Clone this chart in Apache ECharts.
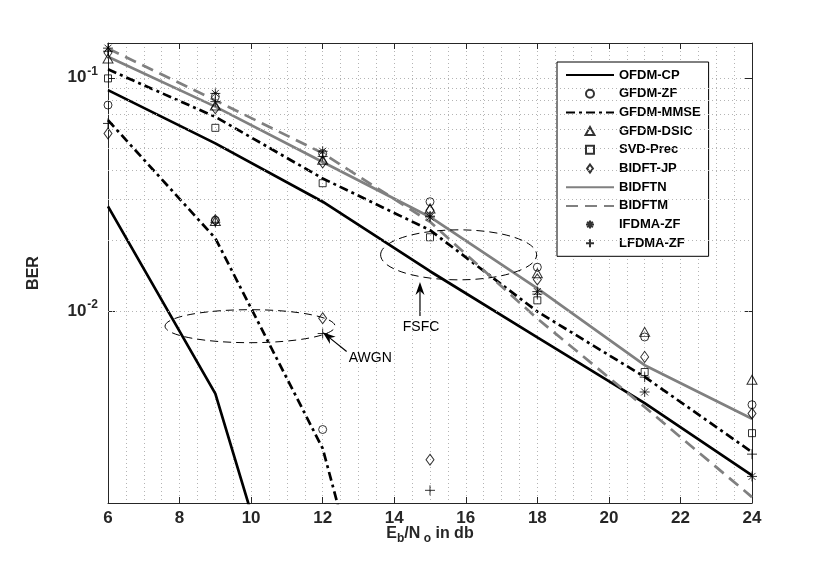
<!DOCTYPE html>
<html>
<head>
<meta charset="utf-8">
<script src="https://cdn.jsdelivr.net/npm/echarts@6/dist/echarts.min.js"></script>
<style>
  html, body { margin: 0; padding: 0; background: #fff; }
  #main { width: 830px; height: 565px; }
</style>
</head>
<body>
<div id="main"></div>
<script>
'use strict'
// Eb/No points (dB)
var xVals = [6, 9, 12, 15, 18, 21, 24];

// curves, frequency selective channel (FSFC)
var ofdmFsfc = [0.0885, 0.0523, 0.0294, 0.0148, 0.0077, 0.00402, 0.00197];
var mmseFsfc = [0.1087, 0.068, 0.037, 0.0222, 0.00994, 0.00521, 0.00248];
var bidftnVals = [0.123, 0.0752, 0.0435, 0.0253, 0.0125, 0.00585, 0.00345];
var bidftmVals = [0.1336, 0.080, 0.0475, 0.0241, 0.00927, 0.00387, 0.00159];

// curves, AWGN channel
var ofdmAwgnX = [6, 9, 12];
var ofdmAwgn = [0.0281, 0.00442, 0.00013];
var mmseAwgnX = [6, 9, 12, 15];
var mmseAwgn = [0.0658, 0.0205, 0.00257, 0.00005];

// markers [Eb/No, BER]
var zfPts = [[6, 0.0764], [9, 0.083], [12, 0.0473], [15, 0.0294], [18, 0.0154], [21, 0.00773], [24, 0.00396],
             [9, 0.0245], [12, 0.0031]];
var dsicPts = [[6, 0.121], [9, 0.076], [12, 0.0445], [15, 0.0275], [18, 0.0145], [21, 0.00813], [24, 0.00507],
               [9, 0.0243]];
var svdPts = [[6, 0.0994], [9, 0.061], [12, 0.0353], [15, 0.0207], [18, 0.0111], [21, 0.00547], [24, 0.00299]];
var jpPts = [[6, 0.128], [9, 0.074], [12, 0.0433], [15, 0.027], [18, 0.01365], [21, 0.00635], [24, 0.00363],
             [6, 0.0577], [9, 0.0245], [12, 0.0093], [15, 0.0023]];
var ifdmaPts = [[6, 0.134], [9, 0.0857], [12, 0.0484], [15, 0.0253], [18, 0.0121], [21, 0.00449], [24, 0.00195]];
var lfdmaPts = [[6, 0.13], [9, 0.079], [12, 0.046], [15, 0.0255], [18, 0.0118], [21, 0.0052], [24, 0.00243],
                [6, 0.0637], [9, 0.0240], [12, 0.0080], [15, 0.0017]];

var legendNames = ['OFDM-CP', 'GFDM-ZF', 'GFDM-MMSE', 'GFDM-DSIC', 'SVD-Prec', 'BIDFT-JP',
                   'BIDFTN', 'BIDFTM', 'IFDMA-ZF', 'LFDMA-ZF'];
var lineNames = ['OFDM-CP', 'GFDM-MMSE', 'BIDFTN', 'BIDFTM'];
var yMinorGrid = [0.002, 0.003, 0.004, 0.005, 0.006, 0.007, 0.008, 0.009,
                  0.02, 0.03, 0.04, 0.05, 0.06, 0.07, 0.08, 0.09];
var yMin = 0.0015, yMax = 0.141;

var FONT = '"Liberation Sans", Arial, Helvetica, sans-serif';
var INK = '#262626';
var GRAY = '#808080';
var NOFILL = 'rgba(0,0,0,0)';
var gridLine = {show: true, lineStyle: {color: '#b4b4b4', width: 1, type: [1, 3]}};

// outline marker shapes as paths so the legend keeps their aspect
var CIRCLE = 'path://M0,5A5,5 0 1,1 10,5A5,5 0 1,1 0,5Z';
var TRI = 'path://M5,0L10,9L0,9Z';
var SQUARE = 'path://M0,0L10,0L10,10L0,10Z';
var DIAMOND = 'path://M4,0L8,5.5L4,11L0,5.5Z';
var STAR = 'path://M0,5L10,5M5,0L5,10M1.5,1.5L8.5,8.5M8.5,1.5L1.5,8.5';
var PLUS = 'path://M0,5L10,5M5,0L5,10';

function pairs(xs, ys) {
    return xs.map(function (x, i) { return [x, ys[i]]; });
}
function lineSeries(name, xs, ys, color, dash) {
    return {
        name: name, type: 'line', data: pairs(xs, ys), symbol: 'none', z: 3,
        lineStyle: {color: color, width: 2.7, type: dash},
        itemStyle: {color: NOFILL, borderWidth: 0}
    };
}
function markSeries(name, pts, symbol, size) {
    return {
        name: name, type: 'scatter', data: pts, symbol: symbol, symbolSize: size, z: 4,
        itemStyle: {color: NOFILL, borderColor: '#000', borderWidth: 1}
    };
}

var chart = echarts.init(document.getElementById('main'));
chart.setOption({
    animation: false,
    backgroundColor: '#fff',
    grid: {left: 108, right: 78, top: 43, bottom: 62},
    legend: {
        data: legendNames.map(function (n) {
            return lineNames.indexOf(n) >= 0
                ? {name: n, itemStyle: {color: NOFILL, borderColor: NOFILL, borderWidth: 0}}
                : {name: n};
        }),
        orient: 'vertical', left: 557, top: 62,
        padding: [6, 8, 6, 8], itemGap: 4.7, itemWidth: 48, itemHeight: 8,
        symbolKeepAspect: true,
        backgroundColor: '#fff', borderColor: '#000', borderWidth: 1,
        selectedMode: false,
        textStyle: {fontFamily: FONT, fontSize: 13, fontWeight: 'bold', color: '#000', lineHeight: 14}
    },
    xAxis: [{
        type: 'value', min: 6, max: 24, interval: 2,
        name: '{a|E}{s|b}{a|/N}{s| o}{a| in db}', nameLocation: 'middle', nameGap: 22,
        nameMoveOverlap: false,
        nameTextStyle: {rich: {
            a: {fontFamily: FONT, fontSize: 16, fontWeight: 'bold', color: INK, lineHeight: 18},
            s: {fontFamily: FONT, fontSize: 12, fontWeight: 'bold', color: INK, lineHeight: 18, padding: [10, 0, 0, 0]}
        }},
        axisLine: {lineStyle: {color: INK, width: 1}},
        axisTick: {inside: true, length: 6, lineStyle: {color: INK}},
        axisLabel: {fontFamily: FONT, fontSize: 17, fontWeight: 'bold', color: INK, margin: 7},
        splitLine: gridLine,
        minorTick: {show: false, splitNumber: 4},
        minorSplitLine: gridLine
    }, {
        type: 'value', min: 6, max: 24, interval: 2, position: 'top',
        axisLine: {lineStyle: {color: INK, width: 1}},
        axisTick: {inside: true, length: 6, lineStyle: {color: INK}},
        axisLabel: {show: false}, splitLine: {show: false}
    }],
    yAxis: [{
        type: 'log', logBase: 10, min: yMin, max: yMax,
        name: 'BER', nameLocation: 'middle', nameGap: 66, nameRotate: 90,
        nameMoveOverlap: false,
        nameTextStyle: {fontFamily: FONT, fontSize: 16, fontWeight: 'bold', color: INK},
        axisLine: {show: true, lineStyle: {color: INK, width: 1}},
        axisTick: {inside: true, length: 7, lineStyle: {color: INK}},
        axisLabel: {
            margin: 10, showMinLabel: false, showMaxLabel: false,
            formatter: function (v) {
                var e = Math.round(Math.log10(v));
                if (Math.abs(v / Math.pow(10, e) - 1) > 1e-6) return '';
                return '{b|10}{e|' + e + '}';
            },
            rich: {
                b: {fontFamily: FONT, fontSize: 17, fontWeight: 'bold', color: INK},
                e: {fontFamily: FONT, fontSize: 12, fontWeight: 'bold', color: INK, padding: [0, 0, 12, 1]}
            }
        },
        splitLine: gridLine
    }, {
        type: 'log', logBase: 10, min: yMin, max: yMax, position: 'right',
        axisLine: {show: true, lineStyle: {color: INK, width: 1}},
        axisTick: {inside: true, length: 7, lineStyle: {color: INK}},
        axisLabel: {show: false}, splitLine: {show: false}
    }],
    series: [
        {
            name: 'grid', type: 'line', data: [], z: 1, silent: true,
            markLine: {
                silent: true, symbol: 'none', label: {show: false},
                lineStyle: {color: '#b4b4b4', width: 1, type: [1, 3]},
                data: yMinorGrid.map(function (v) { return {yAxis: v}; })
            }
        },
        lineSeries('OFDM-CP', xVals, ofdmFsfc, '#000', 'solid'),
        lineSeries('OFDM-CP', ofdmAwgnX, ofdmAwgn, '#000', 'solid'),
        markSeries('GFDM-ZF', zfPts, CIRCLE, 8),
        lineSeries('GFDM-MMSE', xVals, mmseFsfc, '#000', [9, 4, 3, 4]),
        lineSeries('GFDM-MMSE', mmseAwgnX, mmseAwgn, '#000', [9, 4, 3, 4]),
        markSeries('GFDM-DSIC', dsicPts, TRI, [10, 9]),
        markSeries('SVD-Prec', svdPts, SQUARE, 7),
        markSeries('BIDFT-JP', jpPts, DIAMOND, [8, 11]),
        lineSeries('BIDFTN', xVals, bidftnVals, GRAY, 'solid'),
        lineSeries('BIDFTM', xVals, bidftmVals, GRAY, [12, 7]),
        markSeries('IFDMA-ZF', ifdmaPts, STAR, 10),
        markSeries('LFDMA-ZF', lfdmaPts, PLUS, 10)
    ]
});

// annotations: dashed ellipses, arrows and labels placed in data coordinates
function px(p) { return chart.convertToPixel({xAxisIndex: 0, yAxisIndex: 0}, p); }
function arrow(from, to) {
    var a = px(from), b = px(to);
    var dx = b[0] - a[0], dy = b[1] - a[1], L = Math.sqrt(dx * dx + dy * dy);
    var ux = dx / L, uy = dy / L, nx = -uy, ny = ux;
    var hl = 13, hw = 4.5, notch = 4;
    var base = [b[0] - ux * hl, b[1] - uy * hl];
    return [{
        type: 'line', shape: {x1: a[0], y1: a[1], x2: base[0] + ux * notch, y2: base[1] + uy * notch},
        style: {stroke: '#000', lineWidth: 1.2}
    }, {
        type: 'polygon',
        shape: {points: [b, [base[0] + nx * hw, base[1] + ny * hw],
                         [base[0] + ux * notch, base[1] + uy * notch],
                         [base[0] - nx * hw, base[1] - ny * hw]]},
        style: {fill: '#000'}
    }];
}
function ellipse(c, rx, ry) {
    var p = px(c);
    return {type: 'ellipse', shape: {cx: p[0], cy: p[1], rx: rx, ry: ry},
            style: {fill: 'none', stroke: '#000', lineWidth: 1, lineDash: [8, 5]}, z: 5};
}
function label(txt, at, align) {
    var p = px(at);
    return {type: 'text', x: p[0], y: p[1], z: 6,
            style: {text: txt, fontFamily: FONT, fontSize: 14, fill: '#000',
                    align: align, verticalAlign: 'middle'}};
}
var els = [];
els.push(ellipse([15.8, 0.0174], 78, 25));
els.push(ellipse([9.97, 0.0086], 85, 16.5));
els = els.concat(arrow([14.72, 0.0095], [14.72, 0.0133]));
els = els.concat(arrow([12.67, 0.0067], [12.0, 0.0081]));
els.push(label('FSFC', [14.75, 0.0085], 'center'));
els.push(label('AWGN', [12.73, 0.0063], 'left'));
chart.setOption({graphic: {elements: els}});
</script>
</body>
</html>
